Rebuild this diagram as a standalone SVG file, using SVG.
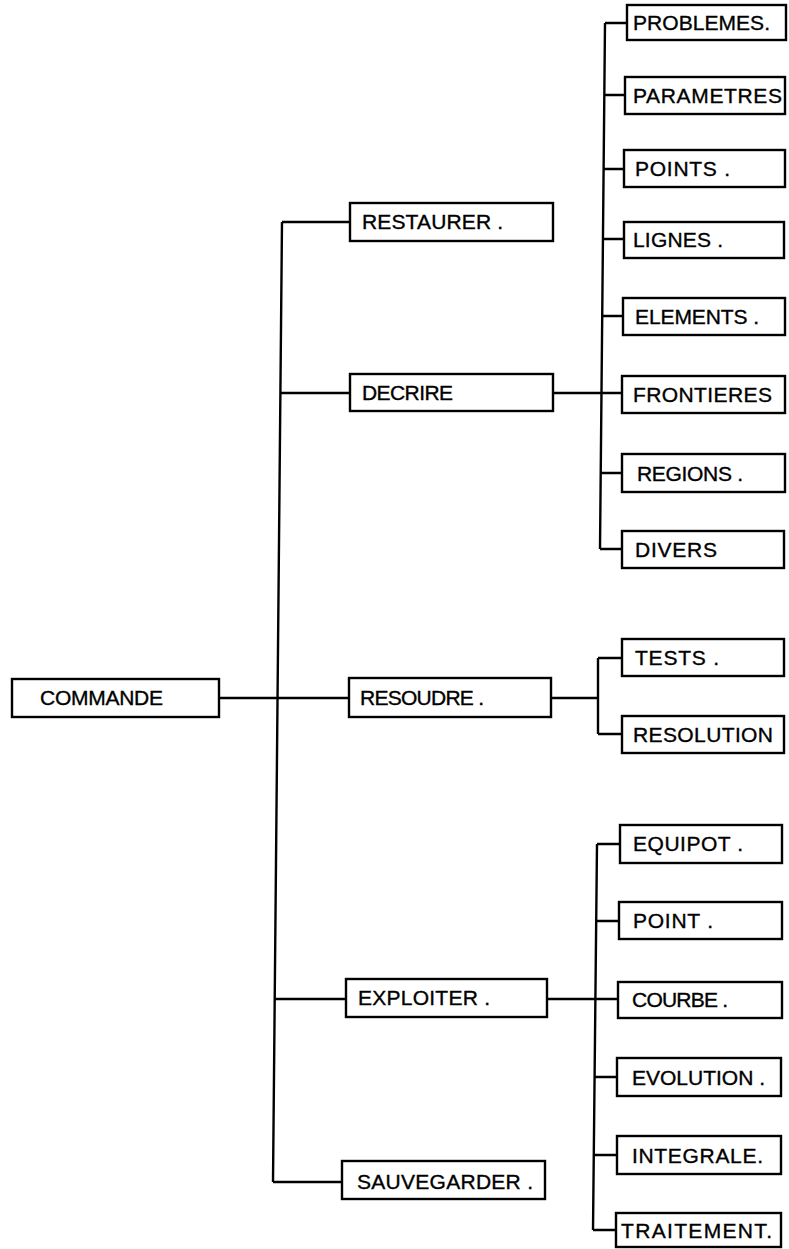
<svg xmlns="http://www.w3.org/2000/svg" width="789" height="1249" viewBox="0 0 789 1249">
<style>
.box{fill:#fff;stroke:#000;stroke-width:2.4}
.lbl{font-family:'Liberation Sans',Arial,sans-serif;font-size:21px;fill:#000;stroke:#000;stroke-width:0.35}
.conn{fill:none;stroke:#000;stroke-width:2.4}
</style>
<rect width="789" height="1249" fill="#fff"/>
<g id="connectors" class="conn">
<path d="M219,698 H277.5 M282,222 L273,1182 M282,222 H350 M280.5,393 H350 M277.5,698 H349 M274.8,999 H346 M273,1182 H342"/>
<path d="M553,393 H622 M605,23 L600,549 M605,23 H627 M604.3,95 H625 M603.6,169 H624 M603,239 H624 M602.2,316 H623 M600.7,473 H622 M600,549 H622"/>
<path d="M551,698 H598 M598,658 V734 M598,658 H622 M598,734 H622"/>
<path d="M547,999 H618 M597,844 L593,1230 M597,844 H620 M596.2,921 H619 M594.6,1077 H617 M593.8,1155 H617 M593,1230 H616"/>
</g>
<g id="commande"><rect class="box" x="12" y="679" width="207" height="38"/><text class="lbl" x="40" y="705" textLength="123" lengthAdjust="spacing">COMMANDE</text></g>
<g id="restaurer"><rect class="box" x="350" y="203" width="203" height="38"/><text class="lbl" x="362" y="229" textLength="141" lengthAdjust="spacing">RESTAURER .</text></g>
<g id="decrire"><rect class="box" x="350" y="374" width="203" height="37"/><text class="lbl" x="362" y="400" textLength="91" lengthAdjust="spacing">DECRIRE</text></g>
<g id="resoudre"><rect class="box" x="349" y="678" width="202" height="39"/><text class="lbl" x="360" y="705" textLength="124" lengthAdjust="spacing">RESOUDRE .</text></g>
<g id="exploiter"><rect class="box" x="346" y="979" width="201" height="38"/><text class="lbl" x="358" y="1005" textLength="132" lengthAdjust="spacing">EXPLOITER .</text></g>
<g id="sauvegarder"><rect class="box" x="342" y="1161" width="203" height="38"/><text class="lbl" x="357" y="1189" textLength="176" lengthAdjust="spacing">SAUVEGARDER .</text></g>
<g id="problemes"><rect class="box" x="627" y="5" width="159" height="35"/><text class="lbl" x="633" y="30" textLength="137" lengthAdjust="spacing">PROBLEMES.</text></g>
<g id="parametres"><rect class="box" x="625" y="77" width="160" height="37"/><text class="lbl" x="633" y="103" textLength="149" lengthAdjust="spacing">PARAMETRES</text></g>
<g id="points"><rect class="box" x="624" y="150" width="161" height="37"/><text class="lbl" x="635" y="176" textLength="95" lengthAdjust="spacing">POINTS .</text></g>
<g id="lignes"><rect class="box" x="624" y="222" width="160" height="36"/><text class="lbl" x="633" y="247" textLength="90" lengthAdjust="spacing">LIGNES .</text></g>
<g id="elements"><rect class="box" x="623" y="298" width="162" height="37"/><text class="lbl" x="635" y="324" textLength="124" lengthAdjust="spacing">ELEMENTS .</text></g>
<g id="frontieres"><rect class="box" x="622" y="376" width="163" height="37"/><text class="lbl" x="633" y="402" textLength="139" lengthAdjust="spacing">FRONTIERES</text></g>
<g id="regions"><rect class="box" x="622" y="454" width="163" height="38"/><text class="lbl" x="637" y="481" textLength="106" lengthAdjust="spacing">REGIONS .</text></g>
<g id="divers"><rect class="box" x="622" y="531" width="162" height="37"/><text class="lbl" x="635" y="557" textLength="82" lengthAdjust="spacing">DIVERS</text></g>
<g id="tests"><rect class="box" x="622" y="639" width="162" height="37"/><text class="lbl" x="635" y="665" textLength="84" lengthAdjust="spacing">TESTS .</text></g>
<g id="resolution"><rect class="box" x="622" y="716" width="162" height="37"/><text class="lbl" x="633" y="742" textLength="140" lengthAdjust="spacing">RESOLUTION</text></g>
<g id="equipot"><rect class="box" x="620" y="825" width="162" height="38"/><text class="lbl" x="633" y="851" textLength="110" lengthAdjust="spacing">EQUIPOT .</text></g>
<g id="point"><rect class="box" x="619" y="902" width="163" height="37"/><text class="lbl" x="633" y="928" textLength="80" lengthAdjust="spacing">POINT .</text></g>
<g id="courbe"><rect class="box" x="618" y="982" width="164" height="36"/><text class="lbl" x="632" y="1007" textLength="96" lengthAdjust="spacing">COURBE .</text></g>
<g id="evolution"><rect class="box" x="617" y="1058" width="164" height="38"/><text class="lbl" x="632" y="1085" textLength="133" lengthAdjust="spacing">EVOLUTION .</text></g>
<g id="integrale"><rect class="box" x="617" y="1136" width="164" height="38"/><text class="lbl" x="632" y="1163" textLength="131" lengthAdjust="spacing">INTEGRALE.</text></g>
<g id="traitement"><rect class="box" x="616" y="1213" width="165" height="34"/><text class="lbl" x="621" y="1238" textLength="151" lengthAdjust="spacing">TRAITEMENT.</text></g>
</svg>
